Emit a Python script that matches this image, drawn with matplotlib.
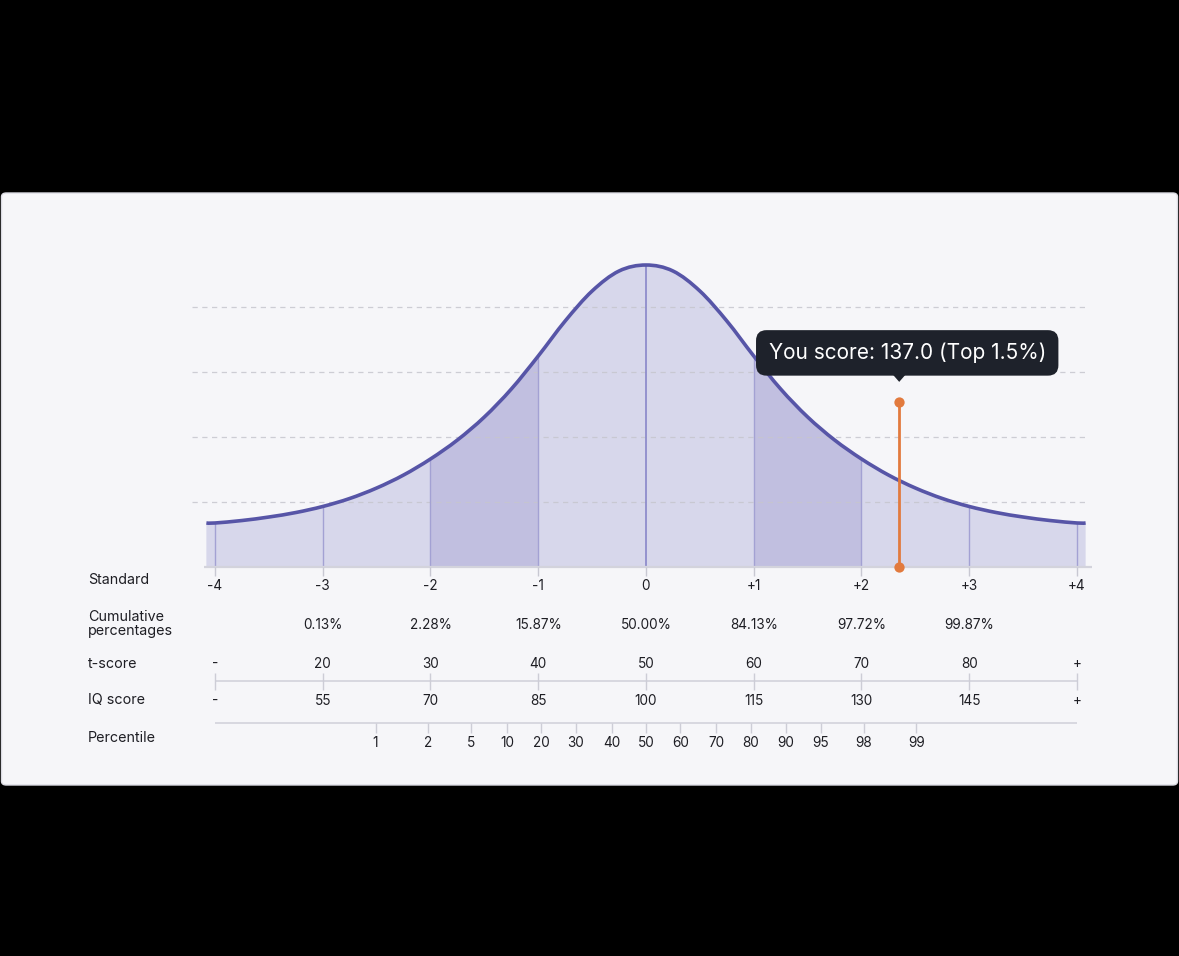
import numpy as np
import matplotlib
matplotlib.use('Agg')
import matplotlib.pyplot as plt
from matplotlib.path import Path
from matplotlib.patches import PathPatch, Rectangle, FancyBboxPatch, Polygon
import matplotlib.transforms as mtransforms

# ---------------- data ----------------
curve_z = [-4.08, -4.0, -3.75, -3.5, -3.25, -3.0, -2.75, -2.5, -2.25, -2.0, -1.75,
           -1.5, -1.25, -1.0, -0.75, -0.5, -0.25, 0.0, 0.25, 0.5, 0.75, 1.0, 1.25,
           1.5, 1.75, 2.0, 2.25, 2.5, 2.75, 3.0, 3.25, 3.5, 3.75, 4.0, 4.08]
curve_h = [0.677, 0.677, 0.715, 0.769, 0.838, 0.931, 1.054, 1.215, 1.415, 1.662, 1.954,
           2.308, 2.738, 3.246, 3.785, 4.246, 4.554, 4.646, 4.554, 4.246, 3.785, 3.246, 2.738,
           2.308, 1.954, 1.662, 1.415, 1.215, 1.054, 0.931, 0.838, 0.769, 0.715, 0.677, 0.677]

sd_z = [-4, -3, -2, -1, 0, 1, 2, 3, 4]
sd_labels = ["-4", "-3", "-2", "-1", "0", "+1", "+2", "+3", "+4"]
cum_z = [-3, -2, -1, 0, 1, 2, 3]
cum_labels = ["0.13%", "2.28%", "15.87%", "50.00%", "84.13%", "97.72%", "99.87%"]
t_labels = ["-", "20", "30", "40", "50", "60", "70", "80", "+"]
iq_labels = ["-", "55", "70", "85", "100", "115", "130", "145", "+"]
pct_labels = ["1", "2", "5", "10", "20", "30", "40", "50", "60", "70", "80", "90", "95", "98", "99"]
pct_z = [-2.51, -2.02, -1.62, -1.29, -0.97, -0.65, -0.32, 0.0, 0.32, 0.65, 0.97, 1.30, 1.62, 2.02, 2.51]
dark_bands = [(-2, -1), (1, 2)]
grid_levels = [1, 2, 3, 4]
row_names = ["Standard", "Cumulative\npercentages", "t-score", "IQ score", "Percentile"]

marker_z = 2.35
marker_top = 2.54
score_text = "You score: 137.0 (Top 1.5%)"

# ---------------- figure ----------------
W, H = 1179, 956
fig = plt.figure(figsize=(W / 100, H / 100), dpi=100, facecolor='black')
plt.rcParams['font.family'] = ['Inter', 'DejaVu Sans']

# pixel -> data helpers (layout only)
X0, PXU = 646.0, 107.75
Y0, PYU = 567.0, 65.0
def X(px):
    return (px - X0) / PXU
def Y(py):
    return (Y0 - py) / PYU

# panel
panel = FancyBboxPatch((1.5 / W, (H - 785) / H), (W - 3) / W, (785 - 193) / H,
                       boxstyle='round,pad=0,rounding_size=0.004',
                       transform=fig.transFigure, fc='#F6F6F9', ec='#DCDCE4', lw=1.0,
                       zorder=-5)
fig.patches.append(panel)

ax = fig.add_axes([0, 0, 1, 1])
ax.set_zorder(1)
ax.set_xlim(X(0), X(W))
ax.set_ylim(Y(H), Y(0))
ax.axis('off')
ax.patch.set_alpha(0)

# smooth curve through the read points (Catmull-Rom -> cubic Bezier)
pts = np.column_stack([curve_z, curve_h])
P = np.vstack([pts[0], pts, pts[-1]])
verts = [tuple(pts[0])]
codes = [Path.MOVETO]
for i in range(1, len(P) - 2):
    p0, p1, p2, p3 = P[i - 1], P[i], P[i + 1], P[i + 2]
    c1 = p1 + (p2 - p0) / 6.0
    c2 = p2 - (p3 - p1) / 6.0
    verts += [tuple(c1), tuple(c2), tuple(p2)]
    codes += [Path.CURVE4] * 3

area_verts = verts + [(curve_z[-1], 0), (curve_z[0], 0), (curve_z[0], curve_h[0])]
area_codes = codes + [Path.LINETO, Path.LINETO, Path.CLOSEPOLY]
area = PathPatch(Path(area_verts, area_codes), fc='#D7D7EB', ec='none', zorder=1)
ax.add_patch(area)

for a, b in dark_bands:
    r = Rectangle((a, 0), b - a, 6, fc='#C1BFE0', ec='none', zorder=1.2)
    ax.add_patch(r)
    r.set_clip_path(area)

# dashed grid
ax.hlines(grid_levels, X(192), X(1085), colors='#C6C6CE', linestyles=(0, (4.2, 3.6)),
          lw=0.9, alpha=0.85, zorder=2)

# vertical sd lines under curve
for z in sd_z:
    h = curve_h[curve_z.index(float(z))]
    ax.vlines(z, 0, h, colors='#8E8CCB' if z == 0 else '#A3A1D3',
              lw=1.3 if z == 0 else 1.0, zorder=2.5)

# curve line
ax.add_patch(PathPatch(Path(verts, codes), fc='none', ec='#5755A7', lw=2.6,
                       capstyle='butt', zorder=3))

# baseline & ticks
ax.hlines(0, X(204), X(1092), colors='#D3D3DC', lw=1.6, zorder=2.6)
ax.vlines(sd_z, Y(576), 0, colors='#C8C8D2', lw=1.0, zorder=2.6)

txt_kw = dict(fontsize=9.8, color='#1E1E24', ha='center', va='center')
for z, s in zip(sd_z, sd_labels):
    ax.text(z, Y(586), s, **txt_kw)
for z, s in zip(cum_z, cum_labels):
    ax.text(z, Y(625), s, **txt_kw)
for z, s in zip(sd_z, t_labels):
    ax.text(z, Y(664), s, **txt_kw)
for z, s in zip(sd_z, iq_labels):
    ax.text(z, Y(701), s, **txt_kw)
for z, s in zip(pct_z, pct_labels):
    ax.text(z, Y(743), s, **txt_kw)

# t-score / IQ axis
ax.hlines(Y(681), sd_z[0], sd_z[-1], colors='#D3D3DC', lw=1.2)
ax.vlines(sd_z, Y(690), Y(673), colors='#CDCDD6', lw=1.0)
# percentile axis
ax.hlines(Y(723), sd_z[0], sd_z[-1], colors='#D3D3DC', lw=1.2)
ax.vlines(pct_z, Y(733), Y(723), colors='#CDCDD6', lw=1.0)

# row names
row_y = [580, 624, 664, 700, 738]
for name, py in zip(row_names, row_y):
    ax.text(X(88), Y(py), name, fontsize=10.3, color='#1E1E24', ha='left', va='center',
            linespacing=1.05)

# marker
ax.vlines(marker_z, 0, marker_top, colors='#E27A3E', lw=2.0, zorder=4)
ax.scatter([marker_z, marker_z], [0, marker_top], s=55, color='#E27A3E', zorder=4.5,
           linewidths=0)

# tooltip
ax.annotate(score_text, xy=(marker_z, marker_top), xytext=(8, 49),
            textcoords='offset pixels', ha='center', va='center', fontsize=15,
            color='white', zorder=6,
            bbox=dict(boxstyle='round,pad=0.6,rounding_size=0.5', fc='#1E222B', ec='none'))
fig.canvas.draw()
mx, my = ax.transData.transform((marker_z, marker_top))
tri = Polygon([(mx - 7, my + 28), (mx + 7, my + 28), (mx, my + 20)], closed=True,
              fc='#1E222B', ec='none', transform=mtransforms.IdentityTransform(), zorder=6)
ax.add_artist(tri)

fig.savefig('out.png', dpi=100, facecolor='black')
